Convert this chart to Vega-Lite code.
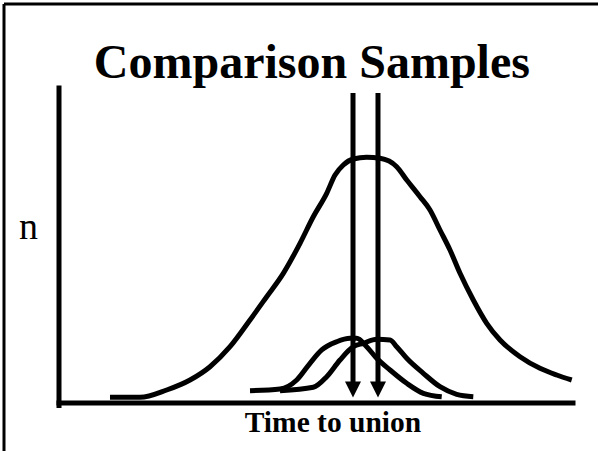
{
  "$schema": "https://vega.github.io/schema/vega-lite/v6.json",
  "width": 598,
  "height": 451,
  "autosize": {"type": "none"},
  "padding": 0,
  "background": "white",
  "config": {"view": {"stroke": null}},
  "datasets": {
    "curves": [
      {"series": "all", "t": 9.92, "n": 1.81},
      {"series": "all", "t": 15.76, "n": 1.81},
      {"series": "all", "t": 20.95, "n": 4.13},
      {"series": "all", "t": 25.49, "n": 7.3},
      {"series": "all", "t": 29.38, "n": 11.52},
      {"series": "all", "t": 33.27, "n": 17.87},
      {"series": "all", "t": 37.16, "n": 26.35},
      {"series": "all", "t": 40.41, "n": 33.75},
      {"series": "all", "t": 43.64, "n": 41.17},
      {"series": "all", "t": 46.89, "n": 50.7},
      {"series": "all", "t": 49.47, "n": 59.14},
      {"series": "all", "t": 52.08, "n": 66.57},
      {"series": "all", "t": 53.7, "n": 72.38},
      {"series": "all", "t": 55.31, "n": 75.56},
      {"series": "all", "t": 57.26, "n": 77.46},
      {"series": "all", "t": 59.86, "n": 78.0},
      {"series": "all", "t": 62.45, "n": 77.68},
      {"series": "all", "t": 65.7, "n": 75.02},
      {"series": "all", "t": 67.65, "n": 70.79},
      {"series": "all", "t": 70.23, "n": 65.49},
      {"series": "all", "t": 72.18, "n": 61.27},
      {"series": "all", "t": 74.12, "n": 54.92},
      {"series": "all", "t": 76.07, "n": 48.57},
      {"series": "all", "t": 78.02, "n": 41.17},
      {"series": "all", "t": 80.6, "n": 32.7},
      {"series": "all", "t": 83.21, "n": 25.3},
      {"series": "all", "t": 85.8, "n": 20.0},
      {"series": "all", "t": 89.69, "n": 14.7},
      {"series": "all", "t": 93.58, "n": 11.02},
      {"series": "all", "t": 96.83, "n": 8.89},
      {"series": "all", "t": 99.75, "n": 7.3},
      {"series": "A", "t": 37.16, "n": 3.9},
      {"series": "A", "t": 43.0, "n": 4.44},
      {"series": "A", "t": 46.25, "n": 7.3},
      {"series": "A", "t": 48.83, "n": 12.6},
      {"series": "A", "t": 51.11, "n": 16.83},
      {"series": "A", "t": 54.03, "n": 19.46},
      {"series": "A", "t": 56.61, "n": 20.54},
      {"series": "A", "t": 57.92, "n": 20.54},
      {"series": "A", "t": 59.86, "n": 17.87},
      {"series": "A", "t": 61.81, "n": 14.19},
      {"series": "A", "t": 64.4, "n": 10.48},
      {"series": "A", "t": 67.65, "n": 6.25},
      {"series": "A", "t": 70.88, "n": 3.08},
      {"series": "A", "t": 74.46, "n": 2.0},
      {"series": "B", "t": 43.0, "n": 3.9},
      {"series": "B", "t": 49.47, "n": 4.98},
      {"series": "B", "t": 52.08, "n": 8.35},
      {"series": "B", "t": 54.67, "n": 13.65},
      {"series": "B", "t": 57.26, "n": 17.87},
      {"series": "B", "t": 59.2, "n": 18.95},
      {"series": "B", "t": 61.81, "n": 20.22},
      {"series": "B", "t": 64.4, "n": 20.0},
      {"series": "B", "t": 65.7, "n": 17.87},
      {"series": "B", "t": 67.65, "n": 14.19},
      {"series": "B", "t": 70.88, "n": 9.43},
      {"series": "B", "t": 74.12, "n": 5.17},
      {"series": "B", "t": 77.37, "n": 2.76},
      {"series": "B", "t": 80.6, "n": 2.0}
    ],
    "lines": [
      {"name": "frame-top", "t": -10.7, "t2": 104.9, "n": 126.67, "n2": 126.67},
      {"name": "frame-left", "t": -10.7, "t2": -10.7, "n": 126.67, "n2": -15.3},
      {"name": "y-axis", "t": 0, "t2": 0, "n": 100, "n2": -0.8},
      {"name": "x-axis", "t": 0, "t2": 100, "n": 0, "n2": 0}
    ],
    "arrows": [
      {"name": "sample 1", "t": 57.2, "top": 98.4, "base": 6.2, "tip": 4.29},
      {"name": "sample 2", "t": 62.06, "top": 98.4, "base": 6.2, "tip": 4.29}
    ],
    "labels": [
      {"label": "Comparison Samples", "role": "title", "t": 49.2, "n": 103.2},
      {"label": "Time to union", "role": "xtitle", "t": 53.3, "n": -9.3},
      {"label": "n", "role": "ytitle", "t": -5.93, "n": 52.06}
    ]
  },
  "layer": [
    {
      "data": {"name": "lines"},
      "mark": {"type": "rule", "strokeWidth": 5, "color": "black", "strokeCap": "square"},
      "transform": [{"filter": "datum.name === 'y-axis' || datum.name === 'x-axis'"}],
      "encoding": {
        "x": {"field": "t", "type": "quantitative", "axis": null, "scale": {"domain": [0, 100], "range": [59, 573], "nice": false, "zero": false}},
        "x2": {"field": "t2"},
        "y": {"field": "n", "type": "quantitative", "axis": null, "scale": {"domain": [0, 100], "range": [403, 88], "nice": false, "zero": false}},
        "y2": {"field": "n2"}
      }
    },
    {
      "data": {"name": "lines"},
      "mark": {"type": "rule", "strokeWidth": 3, "color": "black"},
      "transform": [{"filter": "datum.name === 'frame-top' || datum.name === 'frame-left'"}],
      "encoding": {
        "x": {"field": "t", "type": "quantitative"},
        "x2": {"field": "t2"},
        "y": {"field": "n", "type": "quantitative"},
        "y2": {"field": "n2"}
      }
    },
    {
      "data": {"name": "curves"},
      "mark": {"type": "line", "interpolate": "monotone", "strokeWidth": 5, "color": "black", "strokeCap": "butt", "strokeJoin": "round"},
      "encoding": {
        "x": {"field": "t", "type": "quantitative"},
        "y": {"field": "n", "type": "quantitative"},
        "detail": {"field": "series", "type": "nominal"}
      }
    },
    {
      "data": {"name": "arrows"},
      "mark": {"type": "rule", "strokeWidth": 5, "color": "black"},
      "encoding": {
        "x": {"field": "t", "type": "quantitative"},
        "y": {"field": "top", "type": "quantitative"},
        "y2": {"field": "base"}
      }
    },
    {
      "data": {"name": "arrows"},
      "mark": {"type": "point", "shape": "M-1,-1L1,-1L0,1Z", "size": 256, "filled": true, "color": "black", "opacity": 1},
      "encoding": {
        "x": {"field": "t", "type": "quantitative"},
        "y": {"field": "tip", "type": "quantitative"}
      }
    },
    {
      "data": {"name": "labels"},
      "transform": [{"filter": "datum.role === 'title'"}],
      "mark": {"type": "text", "font": "Liberation Serif", "fontWeight": "bold", "fontSize": 48, "align": "center", "baseline": "alphabetic", "color": "black"},
      "encoding": {"x": {"field": "t", "type": "quantitative"}, "y": {"field": "n", "type": "quantitative"}, "text": {"field": "label"}}
    },
    {
      "data": {"name": "labels"},
      "transform": [{"filter": "datum.role === 'xtitle'"}],
      "mark": {"type": "text", "font": "Liberation Serif", "fontWeight": "bold", "fontSize": 29.5, "align": "center", "baseline": "alphabetic", "color": "black"},
      "encoding": {"x": {"field": "t", "type": "quantitative"}, "y": {"field": "n", "type": "quantitative"}, "text": {"field": "label"}}
    },
    {
      "data": {"name": "labels"},
      "transform": [{"filter": "datum.role === 'ytitle'"}],
      "mark": {"type": "text", "font": "Liberation Serif", "fontWeight": "normal", "fontSize": 38, "align": "center", "baseline": "alphabetic", "color": "black"},
      "encoding": {"x": {"field": "t", "type": "quantitative"}, "y": {"field": "n", "type": "quantitative"}, "text": {"field": "label"}}
    }
  ]
}
